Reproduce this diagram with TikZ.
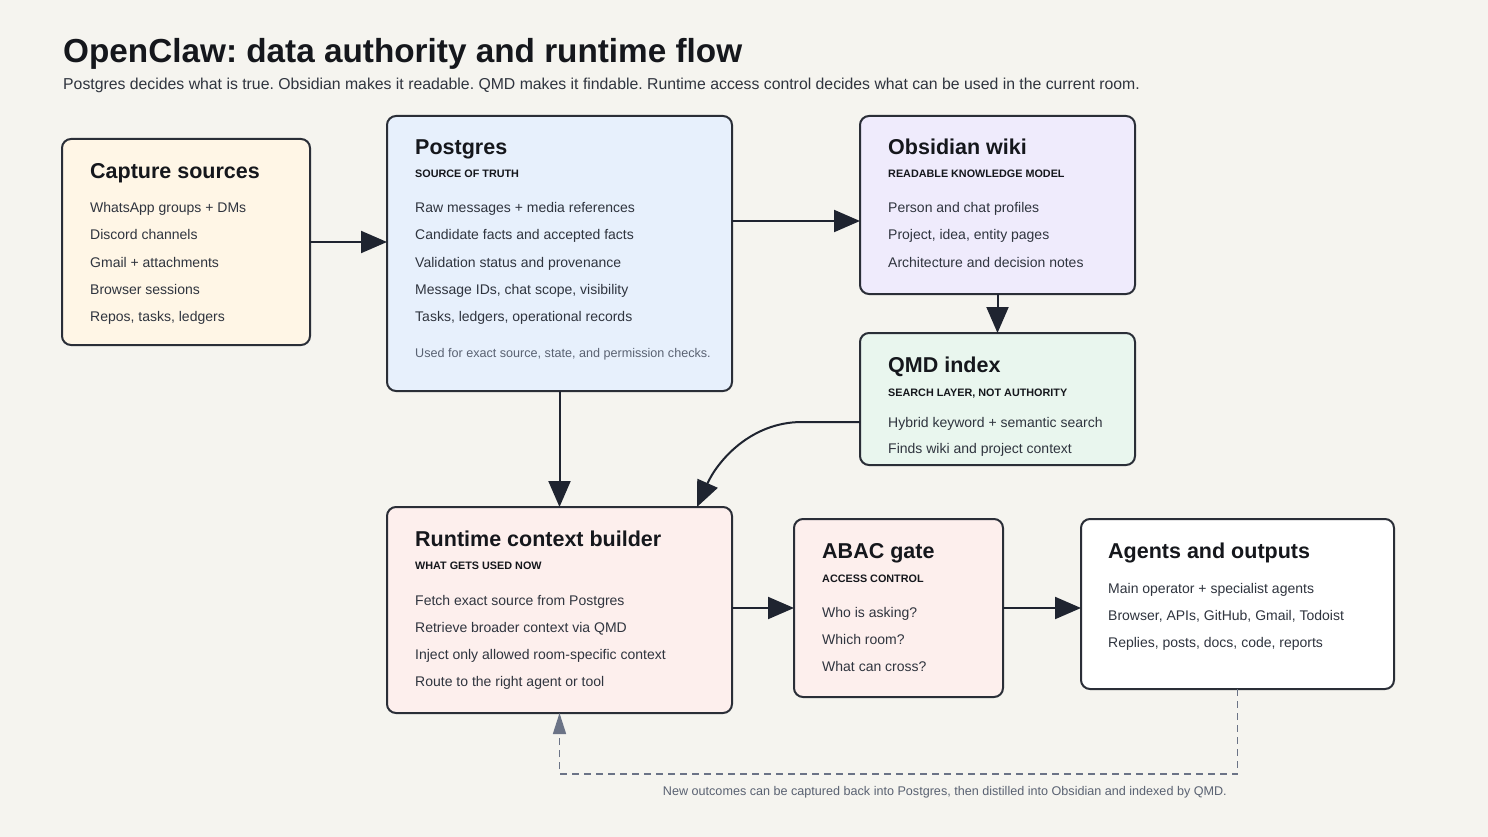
\documentclass[tikz,border=0pt]{standalone}
\usepackage{fontspec}
\setmainfont{Liberation Sans}
\usetikzlibrary{arrows.meta}
\definecolor{bg}{HTML}{F5F4EF}
\definecolor{edge}{HTML}{2A2E37}
\definecolor{arrowc}{HTML}{1F2430}
\definecolor{ink}{HTML}{15171C}
\definecolor{body}{HTML}{2F343E}
\definecolor{muted}{HTML}{5A6272}
\definecolor{dashc}{HTML}{6B7386}
\definecolor{fcap}{HTML}{FFF6E6}
\definecolor{fpg}{HTML}{E7F0FC}
\definecolor{fobs}{HTML}{EFEBFC}
\definecolor{fqmd}{HTML}{E9F6EE}
\definecolor{frt}{HTML}{FDEFED}
\frenchspacing
\begin{document}
\begin{tikzpicture}[x=1pt,y=-1pt,
  box/.style={draw=edge, line width=2pt, rounded corners=9pt, anchor=north west, inner sep=0pt, outer sep=0pt},
  ttl/.style={anchor=base west, inner sep=0pt, font=\fontsize{21.5}{24}\selectfont\bfseries, text=ink},
  subt/.style={anchor=base west, inner sep=0pt, font=\fontsize{10.8}{12}\selectfont\bfseries, text=ink},
  itm/.style={anchor=base west, inner sep=0pt, font=\fontsize{14}{16}\selectfont, text=body},
  note/.style={anchor=base west, inner sep=0pt, font=\fontsize{12.6}{15}\selectfont, text=muted},
  arr/.style={draw=arrowc, line width=2pt, -{Triangle[length=26pt,width=22pt]}},
  dasharr/.style={draw=dashc, line width=1.6pt, dash pattern=on 7pt off 5pt, -{Triangle[length=21pt,width=13pt]}}
]
\fill[bg] (0,0) rectangle (1488,837);
\useasboundingbox (0,0) rectangle (1488,837);

% header
\node[anchor=base west, inner sep=0pt, font=\fontsize{33.3}{38}\selectfont\bfseries, text=ink] (title) at (63,63) {OpenClaw: data authority and runtime flow};
\node[anchor=base west, inner sep=0pt, font=\fontsize{15.8}{18}\selectfont, text=body] (subtitle) at (63,90) {Postgres decides what is true. Obsidian makes it readable. QMD makes it findable. Runtime access control decides what can be used in the current room.};

% boxes
\node[box, fill=fcap, minimum width=248pt, minimum height=206pt] (cap) at (62,139) {};
\node[box, fill=fpg, minimum width=345pt, minimum height=275pt] (pg) at (387,116) {};
\node[box, fill=fobs, minimum width=275pt, minimum height=178pt] (obs) at (860,116) {};
\node[box, fill=fqmd, minimum width=275pt, minimum height=132pt] (qmd) at (860,333) {};
\node[box, fill=frt, minimum width=345pt, minimum height=206pt] (rt) at (387,507) {};
\node[box, fill=frt, minimum width=209pt, minimum height=178pt] (abac) at (794,519) {};
\node[box, fill=white, minimum width=313pt, minimum height=170pt] (ag) at (1081,519) {};

% capture text
\node[ttl] (cap-t) at (90,179) {Capture sources};
\node[itm] (cap-1) at (90,213) {WhatsApp groups + DMs};
\node[itm] (cap-2) at (90,240) {Discord channels};
\node[itm] (cap-3) at (90,267) {Gmail + attachments};
\node[itm] (cap-4) at (90,294) {Browser sessions};
\node[itm] (cap-5) at (90,321) {Repos, tasks, ledgers};

% postgres text
\node[ttl] (pg-t) at (415,155) {Postgres};
\node[subt] (pg-s) at (415,178) {SOURCE OF TRUTH};
\node[itm] (pg-1) at (415,213) {Raw messages + media references};
\node[itm] (pg-2) at (415,240) {Candidate facts and accepted facts};
\node[itm] (pg-3) at (415,267) {Validation status and provenance};
\node[itm] (pg-4) at (415,294) {Message IDs, chat scope, visibility};
\node[itm] (pg-5) at (415,321) {Tasks, ledgers, operational records};
\node[note] (pg-n) at (415,357) {Used for exact source, state, and permission checks.};

% obsidian text
\node[ttl] (obs-t) at (888,155) {Obsidian wiki};
\node[subt] (obs-s) at (888,178) {READABLE KNOWLEDGE MODEL};
\node[itm] (obs-1) at (888,213) {Person and chat profiles};
\node[itm] (obs-2) at (888,240) {Project, idea, entity pages};
\node[itm] (obs-3) at (888,267) {Architecture and decision notes};

% qmd text
\node[ttl] (qmd-t) at (888,372) {QMD index};
\node[subt] (qmd-s) at (888,396) {SEARCH LAYER, NOT AUTHORITY};
\node[itm] (qmd-1) at (888,427) {Hybrid keyword + semantic search};
\node[itm] (qmd-2) at (888,453) {Finds wiki and project context};

% runtime text
\node[ttl] (rt-t) at (415,546) {Runtime context builder};
\node[subt] (rt-s) at (415,569) {WHAT GETS USED NOW};
\node[itm] (rt-1) at (415,605) {Fetch exact source from Postgres};
\node[itm] (rt-2) at (415,632) {Retrieve broader context via QMD};
\node[itm] (rt-3) at (415,659) {Inject only allowed room-specific context};
\node[itm] (rt-4) at (415,686) {Route to the right agent or tool};

% abac text
\node[ttl] (abac-t) at (822,558) {ABAC gate};
\node[subt] (abac-s) at (822,582) {ACCESS CONTROL};
\node[itm] (abac-1) at (822,617) {Who is asking?};
\node[itm] (abac-2) at (822,644) {Which room?};
\node[itm] (abac-3) at (822,671) {What can cross?};

% agents text
\node[ttl] (ag-t) at (1108,558) {Agents and outputs};
\node[itm] (ag-1) at (1108,593) {Main operator + specialist agents};
\node[itm] (ag-2) at (1108,620) {Browser, APIs, GitHub, Gmail, Todoist};
\node[itm] (ag-3) at (1108,647) {Replies, posts, docs, code, reports};

% connectors
\draw[arr] (cap.east) -- (pg.west |- cap.east);
\draw[arr] ([yshift=-105pt]pg.north east) -- ([yshift=-105pt]obs.north west);
\draw[arr] (obs.south) -- (qmd.north);
\draw[arr] (pg.south) -- (rt.north);
\draw[arr] ([yshift=-23pt]qmd.west) -- ++(-58,0) .. controls +(-52,0) and +(20,-45) .. ([xshift=-35pt]rt.north east);
\draw[arr] (abac.west -| rt.east) -- (abac.west);
\draw[arr] (abac.east) -- (abac.east -| ag.west);

% feedback loop
\coordinate (loop) at (559.5,774);
\draw[dasharr] (ag.south) |- (loop) -- (rt.south);
\node[anchor=base east, inner sep=0pt, font=\fontsize{12.6}{14}\selectfont, text=muted] (caption) at (1227,795) {New outcomes can be captured back into Postgres, then distilled into Obsidian and indexed by QMD.};
\end{tikzpicture}
\end{document}
